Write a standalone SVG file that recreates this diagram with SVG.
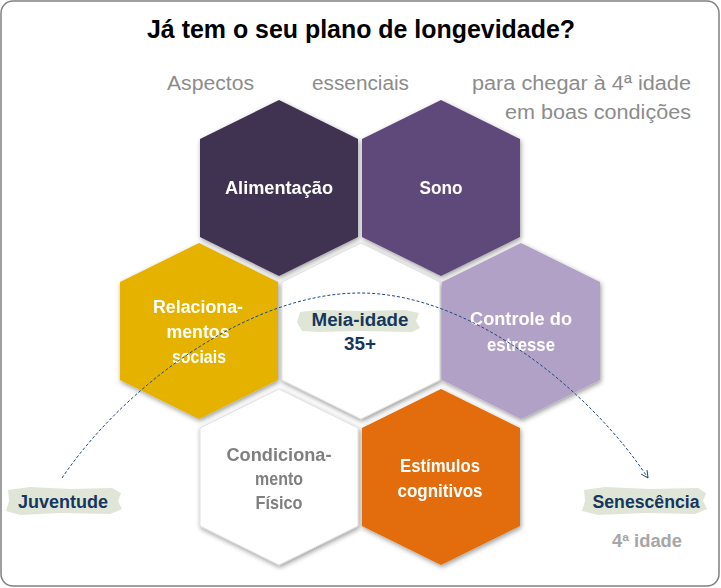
<svg xmlns="http://www.w3.org/2000/svg" width="721" height="588" viewBox="0 0 721 588">
<defs>
<style>
.t{font-family:"Liberation Sans",Arial,sans-serif;font-weight:bold;text-anchor:middle}
.lbl{font-family:"Liberation Sans",Arial,sans-serif;font-weight:bold;font-size:18px;text-anchor:middle}
.w{fill:#ffffff}
.g{fill:#7f7f7f}
.n{fill:#17365d}
.sub{font-family:"Liberation Sans",Arial,sans-serif;font-size:20px;fill:#8c8c8c}
.hex{filter:url(#sh)}
.wh{fill:#ffffff;stroke:#d9d9d9;stroke-width:0.8}
.brush{fill:#dfe6d7}
</style>
<filter id="sh" x="-10%" y="-10%" width="125%" height="125%">
<feDropShadow dx="1" dy="2" stdDeviation="2.5" flood-color="#000" flood-opacity="0.4"/>
</filter>
<polygon id="hx" points="0,-88 79,-49 79,49 0,88 -79,49 -79,-49"/>
<marker id="arr" viewBox="0 0 10 10" refX="9" refY="5" markerWidth="9" markerHeight="9" orient="auto" markerUnits="userSpaceOnUse">
<path d="M1,1 L9,5 L1,9" fill="none" stroke="#1f497d" stroke-width="1"/>
</marker>
</defs>
<rect x="1" y="1" width="718" height="585" rx="12" fill="#ffffff" stroke="#808080" stroke-width="1.5"/>
<text class="t" x="361" y="38" font-size="26" textLength="428" lengthAdjust="spacingAndGlyphs" fill="#000">Já tem o seu plano de longevidade?</text>
<g id="subtitle">
<text class="sub" x="167" y="90" textLength="87" lengthAdjust="spacingAndGlyphs">Aspectos</text>
<text class="sub" x="312" y="90" textLength="97" lengthAdjust="spacingAndGlyphs">essenciais</text>
<text class="sub" x="472" y="90" textLength="219" lengthAdjust="spacingAndGlyphs">para chegar à 4ª idade</text>
<text class="sub" x="505" y="119" textLength="186" lengthAdjust="spacingAndGlyphs">em boas condições</text>
</g>
<g id="alimentacao" class="hex"><use href="#hx" x="279" y="188" fill="#3f3151"/>
<text class="lbl w" x="279" y="194" textLength="108" lengthAdjust="spacingAndGlyphs">Alimentação</text></g>
<g id="sono" class="hex"><use href="#hx" x="441" y="188" fill="#5f497a"/>
<text class="lbl w" x="441" y="194" textLength="43" lengthAdjust="spacingAndGlyphs">Sono</text></g>
<g id="relacionamentos" class="hex"><use href="#hx" x="199" y="331" fill="#e5b200"/>
<text class="lbl w" x="198" y="313" textLength="90" lengthAdjust="spacingAndGlyphs">Relaciona-</text>
<text class="lbl w" x="198" y="338" textLength="63" lengthAdjust="spacingAndGlyphs">mentos</text>
<text class="lbl w" x="199" y="363" textLength="54" lengthAdjust="spacingAndGlyphs">sociais</text></g>
<g id="meia-idade" class="hex"><use href="#hx" x="361" y="331" class="wh"/></g>
<g id="controle" class="hex"><use href="#hx" x="521" y="331" fill="#b2a1c7"/>
<text class="lbl w" x="521" y="325" textLength="102" lengthAdjust="spacingAndGlyphs">Controle  do</text>
<text class="lbl w" x="521" y="351" textLength="68" lengthAdjust="spacingAndGlyphs">estresse</text></g>
<g id="condicionamento" class="hex"><use href="#hx" x="279" y="477" class="wh"/>
<text class="lbl g" x="279" y="461" textLength="105" lengthAdjust="spacingAndGlyphs">Condiciona-</text>
<text class="lbl g" x="279" y="485" textLength="48" lengthAdjust="spacingAndGlyphs">mento</text>
<text class="lbl g" x="279" y="509" textLength="47" lengthAdjust="spacingAndGlyphs">Físico</text></g>
<g id="estimulos" class="hex"><use href="#hx" x="441" y="477" fill="#e36c09"/>
<text class="lbl w" x="440" y="472" textLength="80" lengthAdjust="spacingAndGlyphs">Estímulos</text>
<text class="lbl w" x="440" y="497" textLength="85" lengthAdjust="spacingAndGlyphs">cognitivos</text></g>
<g id="meia-idade-label">
<path class="brush" d="M300,312 L318,310 L360,311 L405,310 L419,313 L416,321 L420,328 L412,332 L360,331 L318,332 L302,331 L297,322 Z"/>
<text class="lbl n" x="360" y="326" textLength="97" lengthAdjust="spacingAndGlyphs">Meia-idade</text>
<text class="lbl n" x="360" y="350" textLength="32" lengthAdjust="spacingAndGlyphs">35+</text>
</g>
<g id="connectors">
<path d="M62,478 C125,385 250,293 360,293 C470,293 590,390 648,478" fill="none" stroke="#1f497d" stroke-width="1" stroke-dasharray="3,2" marker-end="url(#arr)"/>
</g>
<g id="juventude">
<path class="brush" d="M8,490 L30,487 L70,489 L112,488 L121,493 L118,501 L122,509 L110,514 L60,513 L20,515 L6,511 L9,501 Z"/>
<text class="lbl n" x="63" y="508" textLength="90" lengthAdjust="spacingAndGlyphs">Juventude</text>
</g>
<g id="senescencia">
<path class="brush" d="M584,490 L605,487 L650,489 L698,488 L706,493 L703,501 L707,509 L695,514 L645,513 L598,515 L582,511 L585,501 Z"/>
<text class="lbl n" x="646" y="508" textLength="107" lengthAdjust="spacingAndGlyphs">Senescência</text>
<text class="lbl" x="647" y="547" fill="#a6a6a6" textLength="70" lengthAdjust="spacingAndGlyphs">4ª idade</text>
</g>
</svg>
